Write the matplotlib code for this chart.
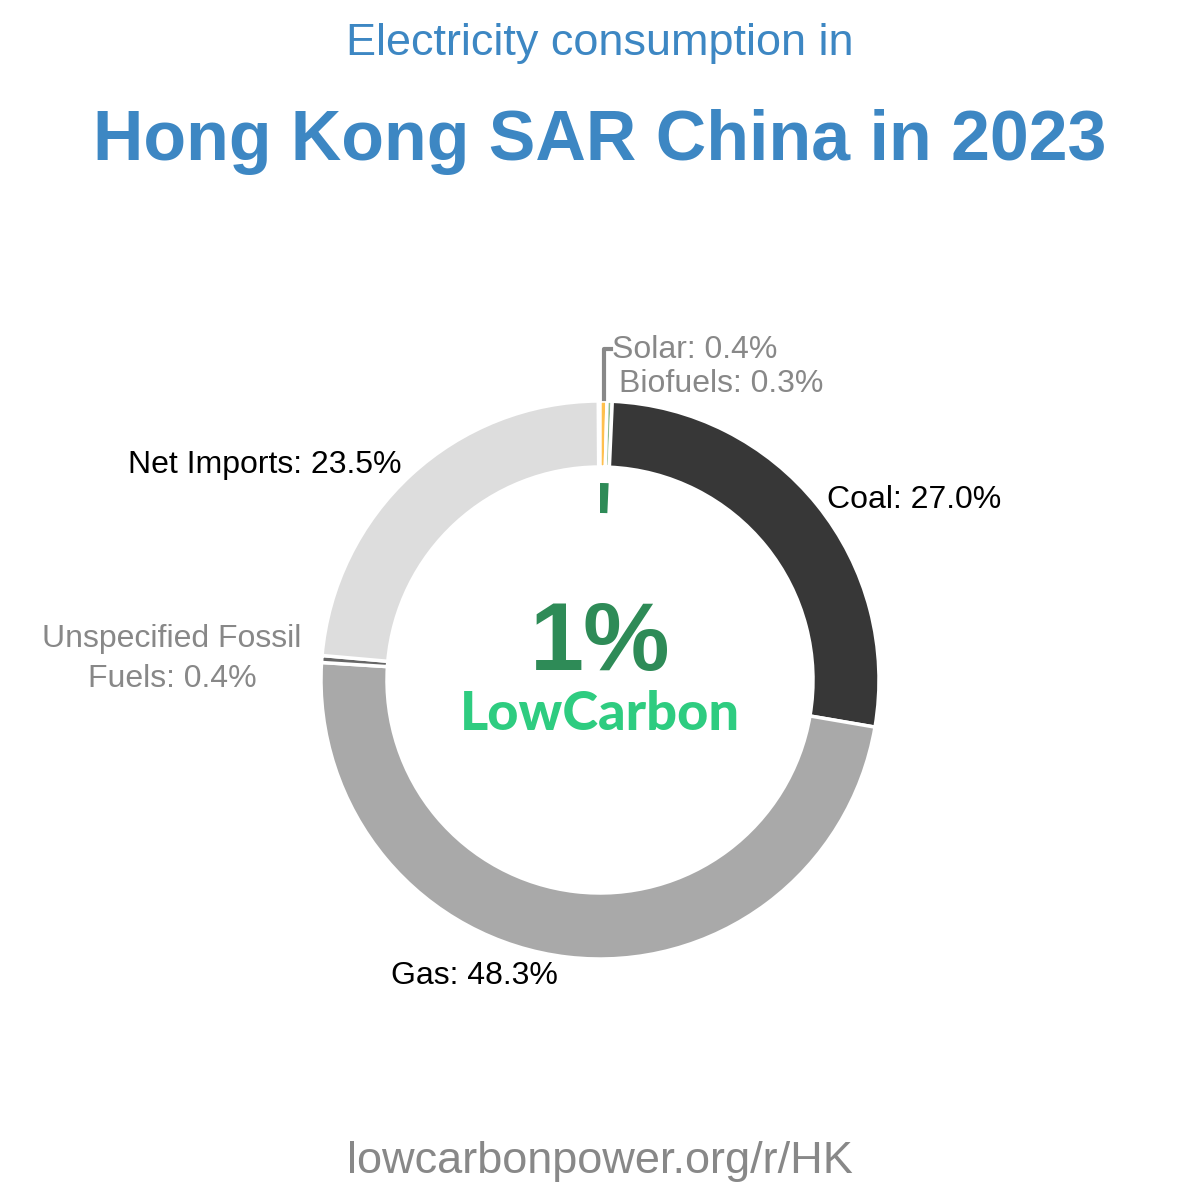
import matplotlib.pyplot as plt
from matplotlib.patches import Wedge

labels = ['Solar', 'Biofuels', 'Coal', 'Gas', 'Unspecified Fossil Fuels', 'Net Imports']
shares = [0.4, 0.3, 27.0, 48.3, 0.4, 23.5]
colors = ['#ffc04d', '#8fbc8f', '#373737', '#a9a9a9', '#666666', '#dddddd']
low_carbon = 0.7

plt.rcParams['font.family'] = ['Liberation Sans', 'DejaVu Sans']

fig = plt.figure(figsize=(12, 12), dpi=100)
ax = fig.add_axes([0, 0, 1, 1])
ax.set_xlim(0, 1200)
ax.set_ylim(0, 1200)
ax.set_aspect('equal')
ax.axis('off')

cx, cy = 600, 520
R, w = 279, 66

# donut, clockwise from 12 o'clock
start = 90.0
for share, col in zip(shares, colors):
    span = share / 100 * 360
    ax.add_patch(Wedge((cx, cy), R, start - span, start, width=w,
                       facecolor=col, edgecolor='white', linewidth=2.5))
    start -= span

# low-carbon tick inside
span = low_carbon / 100 * 360
ax.add_patch(Wedge((cx, cy), 197, 90 - span, 90, width=30,
                   facecolor='#2e8b57', edgecolor='none'))

# labels
fs = 23
ax.text(827, 1200 - 500, 'Coal: 27.0%', fontsize=fs, color='black', va='center', ha='left')
ax.text(558, 1200 - 976, 'Gas: 48.3%', fontsize=fs, color='black', va='center', ha='right')
ax.text(402, 1200 - 465, 'Net Imports: 23.5%', fontsize=fs, color='black', va='center', ha='right')
ax.text(172, 1200 - 659, 'Unspecified Fossil\nFuels: 0.4%', fontsize=fs, color='#888888',
        va='center', ha='center', linespacing=1.45)
ax.text(612, 1200 - 350, 'Solar: 0.4%', fontsize=fs, color='#888888', va='center', ha='left')
ax.text(619, 1200 - 384, 'Biofuels: 0.3%', fontsize=fs, color='#888888', va='center', ha='left')
ax.plot([604, 604, 611], [1200 - 399, 1200 - 349, 1200 - 349], color='#888888', lw=3)

# center text
ax.text(600, 1200 - 645, '1%', fontsize=70, fontweight='bold', color='#2e8b57',
        ha='center', va='center')
ax.text(600, 1200 - 714, 'LowCarbon', fontsize=39, fontweight='black', color='#2ecc80',
        ha='center', va='center', family=['Lato', 'DejaVu Sans'])

# titles
fig.text(0.5, 1 - 43 / 1200, 'Electricity consumption in', fontsize=32.4, color='#3d87c3',
         ha='center', va='center')
fig.text(0.5, 1 - 142 / 1200, 'Hong Kong SAR China in 2023', fontsize=50.3, fontweight='bold',
         color='#3d87c3', ha='center', va='center')
fig.text(0.5, 1 - 1162 / 1200, 'lowcarbonpower.org/r/HK', fontsize=32.5, color='#888888',
         ha='center', va='center')

fig.savefig('out.png', dpi=100, facecolor='white')
